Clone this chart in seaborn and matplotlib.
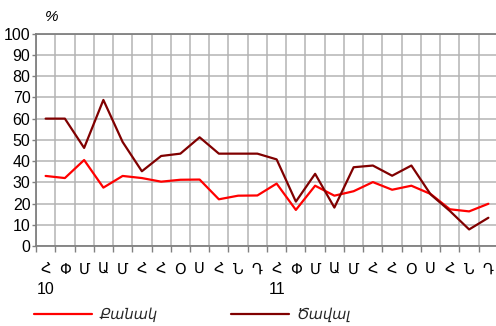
import numpy as np
import pandas as pd
import seaborn as sns
import matplotlib
matplotlib.use("Agg")
import matplotlib.pyplot as plt
from matplotlib.ticker import FixedLocator
import matplotlib.transforms as mtransforms

# Monthly shares, %, Jan 2010 - Dec 2011
months = ["Հ", "Փ", "Մ", "Ա", "Մ", "Հ", "Հ", "Օ", "Ս", "Հ", "Ն", "Դ"] * 2
years = {0: "10", 12: "11"}
quantity = [33, 32, 40.5, 27.5, 33, 32, 30.3, 31.2, 31.3, 22, 23.7, 23.8,
            29.4, 17, 28.4, 23.7, 25.8, 30.1, 26.5, 28.4, 24.5, 17.3, 16.3, 19.9]
volume = [60, 60, 46.2, 68.8, 49, 35.2, 42.4, 43.5, 51.2, 43.5, 43.5, 43.5,
          40.8, 20.9, 34, 18.1, 37.1, 37.9, 33.1, 37.9, 24.3, 16.5, 7.8, 13.3]
series_names = ["Քանակ", "Ծավալ"]
colors = ["#ff0000", "#800000"]

sns.set_theme(style="white")
plt.rcParams["font.family"] = ["Liberation Sans", "DejaVu Sans"]
plt.rcParams["font.size"] = 10.5

n = len(months)
df = pd.DataFrame({
    "idx": list(range(n)) * 2,
    "value": quantity + volume,
    "series": [series_names[0]] * n + [series_names[1]] * n,
})

fig = plt.figure(figsize=(4.96, 3.26), dpi=100)
ax = fig.add_axes([36 / 496, 1 - 246 / 326, 462 / 496, (246 - 33.7) / 326])

sns.lineplot(data=df, x="idx", y="value", hue="series",
             palette=dict(zip(series_names, colors)), linewidth=1.6,
             ax=ax, legend=False)

ax.set_xlim(-0.5, n - 0.5)
ax.set_ylim(0, 100)
ax.set_xlabel("")
ax.set_ylabel("")

# y axis
ax.set_yticks(np.arange(0, 101, 10))
ax.tick_params(axis="y", which="major", length=3, width=1, color="#808080",
               labelsize=11.5, pad=1, labelcolor="#000000", left=True)

# x axis: labels at month centres, ticks and grid at month boundaries
ax.set_xticks(range(n))
ax.set_xticklabels(months, fontsize=10.5)
ax.tick_params(axis="x", which="major", length=0, pad=12, labelcolor="#000000")
ax.xaxis.set_minor_locator(FixedLocator(np.arange(-0.5, n, 1.0)))
ax.tick_params(axis="x", which="minor", length=4, width=1, color="#808080",
               bottom=True)

ax.grid(False)
ax.grid(True, axis="y", which="major", color="#b4b4b4", linewidth=1.1)
ax.grid(True, axis="x", which="minor", color="#b4b4b4", linewidth=1.1)
ax.set_axisbelow(True)

for side in ["left", "bottom", "top"]:
    ax.spines[side].set_visible(True)
    ax.spines[side].set_color("#808080")
    ax.spines[side].set_linewidth(1.3)
ax.spines["right"].set_visible(False)

# year labels under January
trans = mtransforms.blended_transform_factory(ax.transData, fig.transFigure)
for i, yr in years.items():
    ax.text(i, 1 - 289 / 326, yr, transform=trans, ha="center", va="center",
            fontsize=11.5, color="#000000")

# unit label
fig.text(52 / 496, 1 - 17 / 326, "%", ha="center", va="center",
         fontsize=11, style="italic", color="#000000")

handles = [plt.Line2D([], [], color=c, linewidth=1.6) for c in colors]
leg = fig.legend(handles, series_names, loc="center left",
                 bbox_to_anchor=(34 / 496, 1 - 315 / 326), ncol=2,
                 frameon=False, handlelength=4.0, handletextpad=0.5,
                 columnspacing=5.0, borderaxespad=0, borderpad=0,
                 prop={"style": "italic", "size": 10.5})

fig.savefig("out.png", dpi=100)
